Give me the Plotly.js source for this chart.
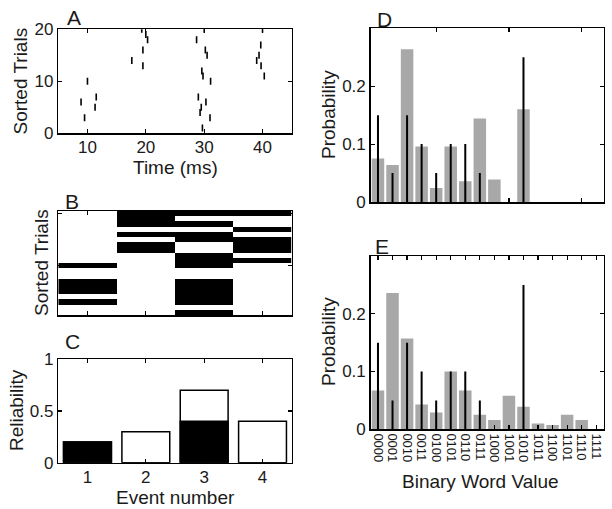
<!DOCTYPE html>
<html>
<head>
<meta charset="utf-8">
<script src="https://cdn.plot.ly/plotly-3.0.1.min.js"></script>
<style>html,body{margin:0;padding:0;background:#fff;}#chart{width:612px;height:509px;}</style>
</head>
<body>
<div id="chart"></div>
<script>
// ---------- Panel A: raster ----------
const spikeTimes  = [19.3, 30.0, 40.0, 20.0, 20.3, 28.7, 39.7, 19.5, 30.2, 30.5, 39.4, 17.6, 39.0, 19.5, 39.75, 29.6, 29.8, 40.3, 10.0, 31.1, 11.5, 29.0, 8.9, 30.3, 11.3, 29.5, 29.3, 9.5, 31.0, 29.7];
const spikeTrials = [20,   20,   20,   19,   18,   18,   17,   16,   16,   15,   15,   14,   14,   13,   13,    12,   11,   11,   10,   10,   7,    7,    6,   6,    5,    5,    4,    3,   3,    1];
const eventEdges = [5, 15, 25, 35, 45];
const eventCenters = [10, 20, 30, 40];
const nTrials = 20;

// ---------- Panel C: reliability ----------
const eventNumbers = [1, 2, 3, 4];
const reliabilityTotal = [0.2, 0.3, 0.7, 0.4];
const reliabilityFilled = [0.2, 0, 0.4, 0];

// ---------- Panels D, E: binary words ----------
const wordLabels = ['0000','0001','0010','0011','0100','0101','0110','0111','1000','1001','1010','1011','1100','1101','1110','1111'];
const probD = [0.075, 0.064, 0.264, 0.096, 0.024, 0.096, 0.036, 0.144, 0.039, 0, 0.160, 0, 0, 0, 0, 0];
const probE = [0.067, 0.236, 0.157, 0.043, 0.029, 0.100, 0.067, 0.025, 0.016, 0.058, 0.039, 0.010, 0.0075, 0.025, 0.016, 0];
const stemProb = [0.15, 0.05, 0.15, 0.10, 0.05, 0.10, 0.10, 0.05, 0, 0, 0.25, 0, 0, 0, 0, 0];

// build binary event matrix for panel B from raster
const trialIdx = Array.from({length: nTrials}, (_, i) => i + 1);
const zB = trialIdx.map(t => eventCenters.map((c, e) => {
  for (let k = 0; k < spikeTimes.length; k++) {
    if (spikeTrials[k] === t && spikeTimes[k] >= eventEdges[e] && spikeTimes[k] < eventEdges[e + 1]) return 1;
  }
  return 0;
}));

const wordIdx = wordLabels.map((_, i) => i);
const stemX = [], stemY = [];
stemProb.forEach((v, i) => { if (v > 0) { stemX.push(i, i, null); stemY.push(0, v, null); } });

const W = 612, H = 509;
const px = v => v / W;
const py = v => 1 - v / H;

const FONT = 'Liberation Sans, Arial, sans-serif';
const TXT = '#1a1a1a';
const GRAY = '#a8a8a8';

const traces = [
  { type: 'scatter', mode: 'markers', x: spikeTimes, y: spikeTrials, xaxis: 'x', yaxis: 'y',
    marker: { symbol: 'line-ns', size: 5, line: { color: '#000', width: 1.6 } }, hoverinfo: 'x+y' },
  { type: 'heatmap', x: eventCenters, y: trialIdx, z: zB, xaxis: 'x2', yaxis: 'y2',
    colorscale: [[0, '#ffffff'], [1, '#000000']], zmin: 0, zmax: 1, showscale: false },
  { type: 'bar', x: eventNumbers, y: reliabilityTotal, xaxis: 'x3', yaxis: 'y3', width: 0.82,
    marker: { color: '#ffffff', line: { color: '#000', width: 1.5 } } },
  { type: 'bar', x: eventNumbers, y: reliabilityFilled, xaxis: 'x3', yaxis: 'y3', width: 0.82,
    marker: { color: '#000000', line: { color: '#000', width: 1.5 } } },
  { type: 'bar', x: wordIdx, y: probD, xaxis: 'x4', yaxis: 'y4', width: 0.86,
    marker: { color: GRAY, line: { width: 0 } } },
  { type: 'scatter', mode: 'lines', x: stemX, y: stemY, xaxis: 'x4', yaxis: 'y4',
    line: { color: '#000', width: 2 } },
  { type: 'bar', x: wordIdx, y: probE, xaxis: 'x5', yaxis: 'y5', width: 0.86,
    marker: { color: GRAY, line: { width: 0 } } },
  { type: 'scatter', mode: 'lines', x: stemX, y: stemY, xaxis: 'x5', yaxis: 'y5',
    line: { color: '#000', width: 2 } }
];

const baseAx = {
  showline: true, linecolor: '#000', linewidth: 1.5, mirror: 'ticks',
  ticks: 'inside', ticklen: 4, tickwidth: 1.2, tickcolor: '#000',
  showgrid: false, zeroline: false, fixedrange: true,
  tickfont: { family: FONT, size: 17, color: TXT }
};
const ax = o => Object.assign({}, baseAx, o);

const layout = {
  width: W, height: H, margin: { l: 0, r: 0, t: 0, b: 0 },
  paper_bgcolor: '#fff', plot_bgcolor: '#fff', showlegend: false, barmode: 'overlay',
  font: { family: FONT, color: TXT },
  xaxis:  ax({ domain: [px(58.3), px(291.7)], range: [5, 45], tickvals: [10, 20, 30, 40], anchor: 'y', ticklabelstandoff: -2 }),
  yaxis:  ax({ domain: [py(133.3), py(29.3)], range: [0, 20], tickvals: [0, 10, 20], anchor: 'x' }),
  xaxis2: ax({ domain: [px(58.3), px(291.7)], range: [5, 45], tickvals: [10, 20, 30, 40], showticklabels: false, anchor: 'y2' }),
  yaxis2: ax({ domain: [py(315), py(211)], range: [0.5, 20.5], tickvals: [10, 20], showticklabels: false, anchor: 'x2' }),
  xaxis3: ax({ domain: [px(58.3), px(291.7)], range: [0.5, 4.5], tickvals: [1, 2, 3, 4], anchor: 'y3', ticklabelstandoff: -2 }),
  yaxis3: ax({ domain: [py(462.7), py(359.3)], range: [0, 1], tickvals: [0, 0.5, 1], anchor: 'x3' }),
  xaxis4: ax({ domain: [px(370.7), px(603.5)], range: [-0.5, 15.5], tickvals: [4, 9, 14], showticklabels: false, anchor: 'y4' }),
  yaxis4: ax({ domain: [py(202), py(28.3)], range: [0, 0.3], tickvals: [0, 0.1, 0.2], anchor: 'x4' }),
  xaxis5: ax({ domain: [px(370.7), px(603.5)], range: [-0.5, 15.5], tickvals: wordIdx, ticktext: wordLabels,
               tickangle: 90, tickfont: { family: FONT, size: 13, color: TXT }, anchor: 'y5' }),
  yaxis5: ax({ domain: [py(429.3), py(256)], range: [0, 0.3], tickvals: [0, 0.1, 0.2], anchor: 'x5' }),
  annotations: []
};

function note(text, x, y, size, angle) {
  layout.annotations.push({ text: text, xref: 'paper', yref: 'paper', x: px(x), y: py(y),
    xanchor: 'center', yanchor: 'middle', showarrow: false, textangle: angle || 0,
    font: { family: FONT, size: size, color: TXT } });
}
note('A', 74, 17.5, 21);
note('B', 72, 201, 21);
note('C', 72, 341, 21);
note('D', 384, 20, 21);
note('E', 382, 246, 21);
note('Time (ms)', 175, 168, 19);
note('Sorted Trials', 19.5, 81, 19, -90);
note('Sorted Trials', 41, 263, 19, -90);
note('Reliability', 16, 410, 19, -90);
note('Event number', 175, 497, 19);
note('Probability', 328, 115, 19, -90);
note('Probability', 328, 342, 19, -90);
note('Binary Word Value', 480, 481, 19);

Plotly.newPlot('chart', traces, layout, { staticPlot: true, displayModeBar: false });
</script>
</body>
</html>
